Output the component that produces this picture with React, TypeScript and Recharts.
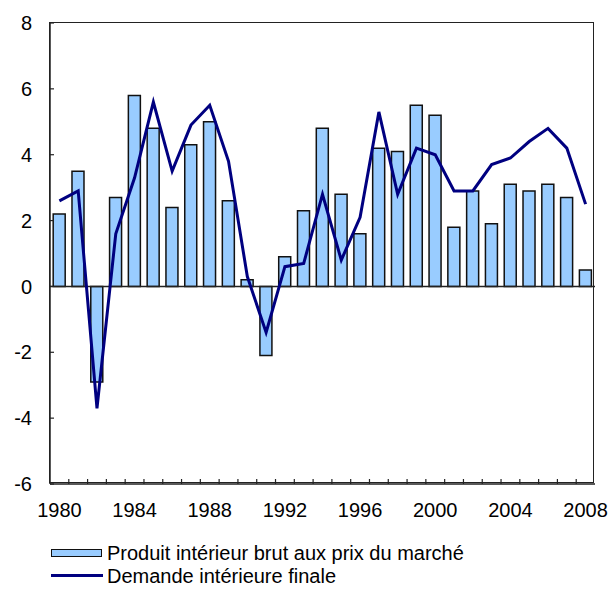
import React from 'react';
import { ComposedChart, Bar, Line, XAxis, YAxis, Legend, ReferenceLine } from 'recharts';

const years = ['1980','1981','1982','1983','1984','1985','1986','1987','1988','1989','1990','1991','1992','1993','1994','1995','1996','1997','1998','1999','2000','2001','2002','2003','2004','2005','2006','2007','2008'];
const gdp = [2.2,3.5,-2.9,2.7,5.8,4.8,2.4,4.3,5.0,2.6,0.2,-2.1,0.9,2.3,4.8,2.8,1.6,4.2,4.1,5.5,5.2,1.8,2.9,1.9,3.1,2.9,3.1,2.7,0.5];
const demand = [2.6,2.9,-3.7,1.6,3.3,5.6,3.5,4.9,5.5,3.8,0.3,-1.4,0.6,0.7,2.8,0.8,2.1,5.3,2.8,4.2,4.0,2.9,2.9,3.7,3.9,4.4,4.8,4.2,2.5];
const yTicks = [-6,-4,-2,0,2,4,6,8];
const Y_MIN = -6;
const Y_MAX = 8;
const seriesNames = ['Produit intérieur brut aux prix du marché', 'Demande intérieure finale'];
const LABEL_EVERY = 4;

const data = years.map((y, i) => ({ year: y, gdp: gdp[i], demand: demand[i] }));

const W = 608;
const H = 593;
const MARGIN = { top: 23, right: 13, bottom: 9, left: 0 };
const Y_AXIS_W = 50;
const X_AXIS_H = 40;
const LEGEND_H = 60;
const PLOT_W = W - MARGIN.left - MARGIN.right - Y_AXIS_W;
const PLOT_H = H - MARGIN.top - MARGIN.bottom - X_AXIS_H - LEGEND_H;
const BAND = PLOT_W / years.length;
const X_TICK_MARGIN = 19;
const Y_TICK_MARGIN = 18;

const FONT = '"Liberation Sans", Arial, sans-serif';
const AXIS = '#222';
const BAR_FILL = '#99CCFF';
const LINE = '#000080';

const XTick = (props: any) => {
  const { x, y, index, payload } = props;
  const axisY = y - X_TICK_MARGIN;
  const bx = x - BAND / 2;
  return (
    <g>
      {index > 0 && <line x1={bx} x2={bx} y1={axisY} y2={axisY - 5} stroke={AXIS} strokeWidth={1.2} />}
      {index % LABEL_EVERY === 0 && (
        <text x={x} y={y} dy="0.71em" textAnchor="middle" fill="#000" fontSize={20} fontFamily={FONT}>{payload.value}</text>
      )}
    </g>
  );
};

const YTick = (props: any) => {
  const { x, y, payload } = props;
  const ax = x + Y_TICK_MARGIN;
  return (
    <g>
      <line x1={ax} x2={ax + 4} y1={y} y2={y} stroke={AXIS} strokeWidth={1.2} />
      <text x={x} y={y} dy="0.355em" textAnchor="end" fill="#000" fontSize={20} fontFamily={FONT}>{payload.value}</text>
    </g>
  );
};

const LegendContent = () => (
  <div style={{ position: 'relative', width: 608, height: LEGEND_H, fontFamily: FONT, fontSize: 20, color: '#000' }}>
    <div style={{ position: 'absolute', left: 51, top: 25, width: 49, height: 6, background: BAR_FILL, border: '1.5px solid #111' }} />
    <div style={{ position: 'absolute', left: 107, top: 19, lineHeight: '20px', whiteSpace: 'nowrap' }}>{seriesNames[0]}</div>
    <div style={{ position: 'absolute', left: 51, top: 50, width: 52, height: 3, background: LINE }} />
    <div style={{ position: 'absolute', left: 107, top: 42, lineHeight: '20px', whiteSpace: 'nowrap' }}>{seriesNames[1]}</div>
  </div>
);

export default function App() {
  return (
    <div style={{ position: 'absolute', left: 0, top: 0, width: W, height: H, background: '#fff' }}>
      <ComposedChart width={W} height={H} data={data} margin={MARGIN} barCategoryGap="17%">
        <XAxis
          dataKey="year"
          interval={0}
          tickLine={false}
          tickSize={0}
          tickMargin={X_TICK_MARGIN}
          height={X_AXIS_H}
          axisLine={{ stroke: AXIS, strokeWidth: 1.5 }}
          tick={<XTick />}
        />
        <YAxis
          domain={[Y_MIN, Y_MAX]}
          ticks={yTicks}
          width={Y_AXIS_W}
          tickLine={false}
          tickSize={0}
          tickMargin={Y_TICK_MARGIN}
          axisLine={{ stroke: AXIS, strokeWidth: 1.5 }}
          tick={<YTick />}
        />
        <ReferenceLine y={0} stroke={AXIS} strokeWidth={1.5} />
        <Bar dataKey="gdp" name={seriesNames[0]} fill={BAR_FILL} stroke="#111" strokeWidth={1.5} isAnimationActive={false} />
        <Line dataKey="demand" name={seriesNames[1]} type="linear" stroke={LINE} strokeWidth={3} dot={false} activeDot={false} isAnimationActive={false} />
        <Legend verticalAlign="bottom" height={LEGEND_H} content={<LegendContent />} wrapperStyle={{ left: 0, width: W, height: LEGEND_H }} />
      </ComposedChart>
      <div
        style={{
          position: 'absolute',
          left: MARGIN.left + Y_AXIS_W - 0.75,
          top: MARGIN.top - 0.75,
          width: PLOT_W,
          height: PLOT_H,
          border: `1.5px solid ${AXIS}`,
          boxSizing: 'border-box',
          pointerEvents: 'none',
        }}
      />
    </div>
  );
}
